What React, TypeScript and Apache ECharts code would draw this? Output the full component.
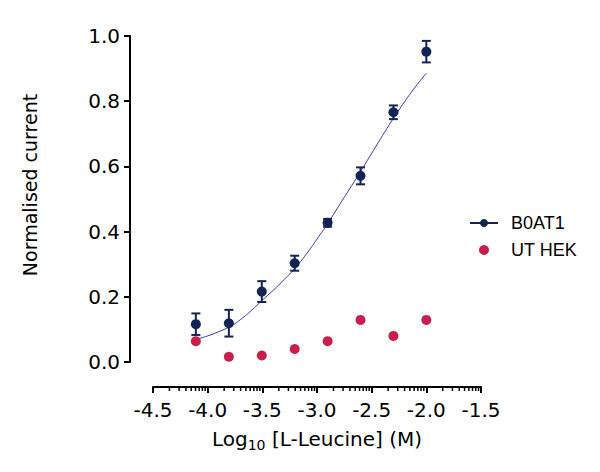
import React, { useEffect, useRef } from "react";
import * as echarts from "echarts";

// log10 [L-Leucine] (M) for each concentration
const xVals = [-4.108, -3.806, -3.505, -3.204, -2.903, -2.602, -2.301, -2.0];
// B0AT1 mean normalised current and its error
const b0at1Mean = [0.116, 0.119, 0.216, 0.303, 0.427, 0.571, 0.766, 0.952];
const b0at1Err = [0.033, 0.041, 0.032, 0.023, 0.012, 0.026, 0.021, 0.033];
// untransfected HEK cells
const utHek = [0.064, 0.016, 0.02, 0.04, 0.064, 0.129, 0.08, 0.129];
// fitted curve
const fitX = [-4.1, -4.0, -3.9, -3.8, -3.7, -3.6, -3.5, -3.4, -3.3, -3.2, -3.1, -3.0, -2.9, -2.8, -2.7, -2.6, -2.5, -2.4, -2.3, -2.2, -2.1, -2.0];
const fitY = [0.07, 0.08, 0.093, 0.108, 0.13, 0.158, 0.19, 0.22, 0.253, 0.288, 0.33, 0.377, 0.426, 0.479, 0.532, 0.585, 0.64, 0.695, 0.748, 0.798, 0.844, 0.886];
// x-axis tick values
const xMajorTicks = [-4.5, -4.0, -3.5, -3.0, -2.5, -2.0, -1.5];
const minorSteps = [2, 3, 4, 5, 6, 7, 8, 9];

const NAVY = "#122454";
const RED = "#c81e4b";
const CURVE = "#3434a8";
const X_OFFSET = 25;

export default function App() {
  const ref = useRef<HTMLDivElement>(null);
  useEffect(() => {
    if (!ref.current) return;
    const chart = echarts.init(ref.current, undefined, { renderer: "svg" });

    const minorTicks: number[][] = [];
    for (let i = 0; i < xMajorTicks.length - 1; i++) {
      for (const k of minorSteps) {
        minorTicks.push([xMajorTicks[i] + 0.5 * Math.log10(k), 0]);
      }
    }

    const font = "DejaVu Sans";
    chart.setOption({
      animation: false,
      backgroundColor: "#fff",
      grid: { left: 153, right: 119, top: 36, bottom: 110 },
      legend: {
        orient: "vertical",
        left: 469,
        top: 214,
        padding: 0,
        itemWidth: 28,
        itemHeight: 10,
        itemGap: 9,
        textStyle: { fontFamily: "Liberation Sans", fontSize: 18, color: "#000", padding: [0, 0, 0, 8] },
        data: [
          { name: "B0AT1", lineStyle: { width: 2, color: NAVY, opacity: 1 } },
          { name: "UT HEK" },
        ],
      },
      xAxis: {
        type: "value",
        min: -4.5,
        max: -1.5,
        interval: 0.5,
        offset: X_OFFSET,
        name: "Log{sub|10} [L-Leucine] (M)",
        nameLocation: "middle",
        nameGap: 40,
        nameTextStyle: {
          fontFamily: font,
          fontSize: 20,
          color: "#000",
          lineHeight: 23,
          verticalAlign: "top",
          rich: {
            sub: { fontFamily: font, fontSize: 14, lineHeight: 14, verticalAlign: "top", padding: [11, 0, 0, 0], color: "#000" },
          },
        },
        axisLine: { show: true, onZero: false, lineStyle: { color: "#000", width: 2 } },
        axisTick: { show: true, length: 6, lineStyle: { color: "#000", width: 2 } },
        axisLabel: {
          formatter: (v: number) => v.toFixed(1),
          margin: 13,
          fontFamily: font,
          fontSize: 20,
          color: "#000",
        },
        splitLine: { show: false },
      },
      yAxis: {
        type: "value",
        min: 0,
        max: 1,
        interval: 0.2,
        offset: 23,
        name: "Normalised current",
        nameLocation: "middle",
        nameGap: 91,
        nameTextStyle: { fontFamily: font, fontSize: 19, color: "#000", padding: [0, 0, 0, 28] },
        axisLine: { show: true, lineStyle: { color: "#000", width: 2 } },
        axisTick: { show: true, length: 6, lineStyle: { color: "#000", width: 2 } },
        axisLabel: {
          formatter: (v: number) => v.toFixed(1),
          margin: 10,
          fontFamily: font,
          fontSize: 20,
          color: "#000",
        },
        splitLine: { show: false },
      },
      series: [
        {
          name: "minor ticks",
          type: "custom",
          silent: true,
          data: minorTicks,
          renderItem: (params: any, api: any) => {
            const p = api.coord([api.value(0), 0]);
            const y0 = p[1] + X_OFFSET;
            return {
              type: "line",
              shape: { x1: p[0], y1: y0, x2: p[0], y2: y0 + 4 },
              style: { stroke: "#000", lineWidth: 1.5 },
            };
          },
        },
        {
          name: "fit",
          type: "line",
          silent: true,
          smooth: true,
          symbol: "none",
          data: fitX.map((x, i) => [x, fitY[i]]),
          lineStyle: { color: CURVE, width: 1 },
          z: 2,
        },
        {
          name: "B0AT1 error",
          type: "custom",
          silent: true,
          data: xVals.map((x, i) => [x, b0at1Mean[i], b0at1Err[i]]),
          renderItem: (params: any, api: any) => {
            const x = api.value(0);
            const y = api.value(1);
            const e = api.value(2);
            const top = api.coord([x, y + e]);
            const bot = api.coord([x, y - e]);
            const w = 4.5;
            const st = { stroke: NAVY, lineWidth: 2 };
            return {
              type: "group",
              children: [
                { type: "line", shape: { x1: top[0], y1: top[1], x2: bot[0], y2: bot[1] }, style: st },
                { type: "line", shape: { x1: top[0] - w, y1: top[1], x2: top[0] + w, y2: top[1] }, style: st },
                { type: "line", shape: { x1: bot[0] - w, y1: bot[1], x2: bot[0] + w, y2: bot[1] }, style: st },
              ],
            };
          },
          z: 3,
        },
        {
          name: "B0AT1",
          type: "line",
          data: xVals.map((x, i) => [x, b0at1Mean[i]]),
          symbol: "circle",
          symbolSize: 10,
          itemStyle: { color: NAVY },
          lineStyle: { width: 0, color: NAVY },
          z: 4,
        },
        {
          name: "UT HEK",
          type: "scatter",
          data: xVals.map((x, i) => [x, utHek[i]]),
          symbol: "circle",
          symbolSize: 10,
          itemStyle: { color: RED, opacity: 1 },
          z: 4,
        },
      ],
    });
    return () => chart.dispose();
  }, []);
  return <div ref={ref} style={{ position: "fixed", left: 0, top: 0, width: 600, height: 472 }} />;
}
